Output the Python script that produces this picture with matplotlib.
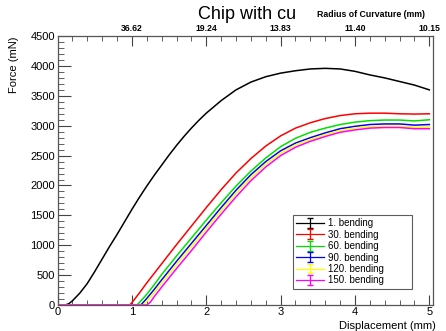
import matplotlib
matplotlib.use("Agg")
import matplotlib.pyplot as plt
from matplotlib.ticker import MultipleLocator

plt.rcParams['font.family'] = ['Liberation Sans', 'DejaVu Sans']

labels = ['1. bending', '30. bending', '60. bending', '90. bending', '120. bending', '150. bending']
colors = ['black', '#ff0000', '#00e000', '#0000ff', '#ffff00', '#ff00ff']

x_b1 = [0, 0.1, 0.15, 0.2, 0.3, 0.4, 0.5, 0.6, 0.7, 0.8, 0.9, 1.0, 1.1, 1.2, 1.3, 1.4, 1.5, 1.6, 1.7,
        1.8, 1.9, 2.0, 2.2, 2.4, 2.6, 2.8, 3.0, 3.2, 3.4, 3.6, 3.8, 4.0, 4.2, 4.4, 4.6, 4.8, 4.9, 5.0]
y_b1 = [0, 0, 20, 70, 200, 360, 560, 770, 980, 1180, 1390, 1600, 1800, 1990, 2170, 2340, 2510, 2670, 2820,
        2960, 3090, 3210, 3420, 3600, 3730, 3820, 3880, 3920, 3950, 3960, 3950, 3910, 3850, 3800, 3740, 3680, 3640, 3600]

x_b30 = [0, 0.97, 1.0, 1.1, 1.2, 1.4, 1.6, 1.8, 2.0, 2.2, 2.4, 2.6, 2.8, 3.0, 3.2, 3.4, 3.6, 3.8, 4.0,
         4.2, 4.4, 4.6, 4.8, 5.0]
y_b30 = [0, 0, 40, 200, 370, 690, 1010, 1320, 1630, 1930, 2210, 2450, 2660, 2830, 2960, 3050, 3120, 3170, 3200,
         3210, 3210, 3200, 3195, 3200]

x_b60 = [0, 1.07, 1.1, 1.2, 1.3, 1.4, 1.6, 1.8, 2.0, 2.2, 2.4, 2.6, 2.8, 3.0, 3.2, 3.4, 3.6, 3.8, 4.0,
         4.2, 4.4, 4.6, 4.8, 5.0]
y_b60 = [0, 0, 40, 180, 340, 510, 820, 1120, 1420, 1710, 1990, 2240, 2460, 2650, 2790, 2890, 2960, 3020, 3060,
         3085, 3095, 3095, 3080, 3100]

x_b90 = [0, 1.12, 1.15, 1.2, 1.3, 1.4, 1.6, 1.8, 2.0, 2.2, 2.4, 2.6, 2.8, 3.0, 3.2, 3.4, 3.6, 3.8, 4.0,
         4.2, 4.4, 4.6, 4.8, 5.0]
y_b90 = [0, 0, 40, 110, 260, 420, 730, 1030, 1330, 1630, 1920, 2180, 2400, 2580, 2710, 2800, 2880, 2950, 2990,
         3020, 3030, 3030, 3010, 3020]

x_b120 = [0, 1.15, 1.2, 1.3, 1.4, 1.6, 1.8, 2.0, 2.2, 2.4, 2.6, 2.8, 3.0, 3.2, 3.4, 3.6, 3.8, 4.0,
          4.2, 4.4, 4.6, 4.8, 5.0]
y_b120 = [0, 0, 60, 210, 370, 680, 980, 1280, 1580, 1870, 2130, 2360, 2540, 2680, 2770, 2850, 2920, 2960,
          2985, 2995, 2995, 2975, 2980]

x_b150 = [0, 1.2, 1.25, 1.3, 1.4, 1.6, 1.8, 2.0, 2.2, 2.4, 2.6, 2.8, 3.0, 3.2, 3.4, 3.6, 3.8, 4.0,
          4.2, 4.4, 4.6, 4.8, 5.0]
y_b150 = [0, 0, 50, 140, 300, 610, 910, 1220, 1520, 1810, 2080, 2310, 2500, 2640, 2740, 2820, 2890, 2930,
          2960, 2970, 2970, 2950, 2950]

radius_pos = [1, 2, 3, 4, 5]
radius_labels = ['36.62', '19.24', '13.83', '11.40', '10.15']

series = [(x_b1, y_b1), (x_b30, y_b30), (x_b60, y_b60), (x_b90, y_b90), (x_b120, y_b120), (x_b150, y_b150)]

fig = plt.figure(figsize=(4.46, 3.31), dpi=100)
ax = fig.add_axes([0.129, 0.0785, 0.842, 0.8125])

handles = []
for (xs, ys), c, lab in zip(series, colors, labels):
    ax.plot(xs, ys, color=c, lw=1.1)
    h = ax.errorbar([float('nan')], [float('nan')], yerr=[1], color=c, lw=0.9,
                    capsize=2.5, elinewidth=0.9, label=lab)
    handles.append(h)

ax.set_xlim(0, 5.05)
ax.set_ylim(0, 4500)
ax.xaxis.set_major_locator(MultipleLocator(1))
ax.xaxis.set_minor_locator(MultipleLocator(0.2))
ax.yaxis.set_major_locator(MultipleLocator(500))
ax.yaxis.set_minor_locator(MultipleLocator(100))
ax.tick_params(which='both', direction='in', labelsize=8, color='#444444')
ax.tick_params(axis='x', which='major', length=7, pad=1.5)
ax.tick_params(axis='x', which='minor', length=3.5)
ax.tick_params(axis='y', which='major', length=9, pad=2)
ax.tick_params(axis='y', which='minor', length=4.5)
for s in ax.spines.values():
    s.set_color('#555555')
    s.set_linewidth(0.9)

top = ax.secondary_xaxis('top')
top.set_xticks(radius_pos, radius_labels)
top.xaxis.set_minor_locator(MultipleLocator(0.2))
top.tick_params(which='both', direction='in', labelsize=6.2, pad=2, color='#444444')
top.tick_params(which='major', length=7)
top.tick_params(which='minor', length=3.5)
for t in top.get_xticklabels():
    t.set_fontweight('bold')
top.spines['top'].set_visible(False)

fig.text(0.555, 0.955, 'Chip with cu', ha='center', va='center', fontsize=13)
fig.text(0.953, 0.955, 'Radius of Curvature (mm)', ha='right', va='center', fontsize=6.3, fontweight='bold')
fig.text(0.978, 0.016, 'Displacement (mm)', ha='right', va='center', fontsize=8)
fig.text(0.032, 0.89, 'Force (mN)', ha='center', va='top', rotation=90, fontsize=8)

leg = ax.legend(handles=handles, loc='lower left', bbox_to_anchor=(0.627, 0.06, 0.317, 0.25),
                mode='expand', borderaxespad=0, fontsize=7, frameon=True, fancybox=False,
                handlelength=2.8, borderpad=0.35, labelspacing=0.15, handletextpad=0.4)
leg.get_frame().set_edgecolor('#333333')
leg.get_frame().set_linewidth(0.8)

fig.savefig('out.png', dpi=100)
